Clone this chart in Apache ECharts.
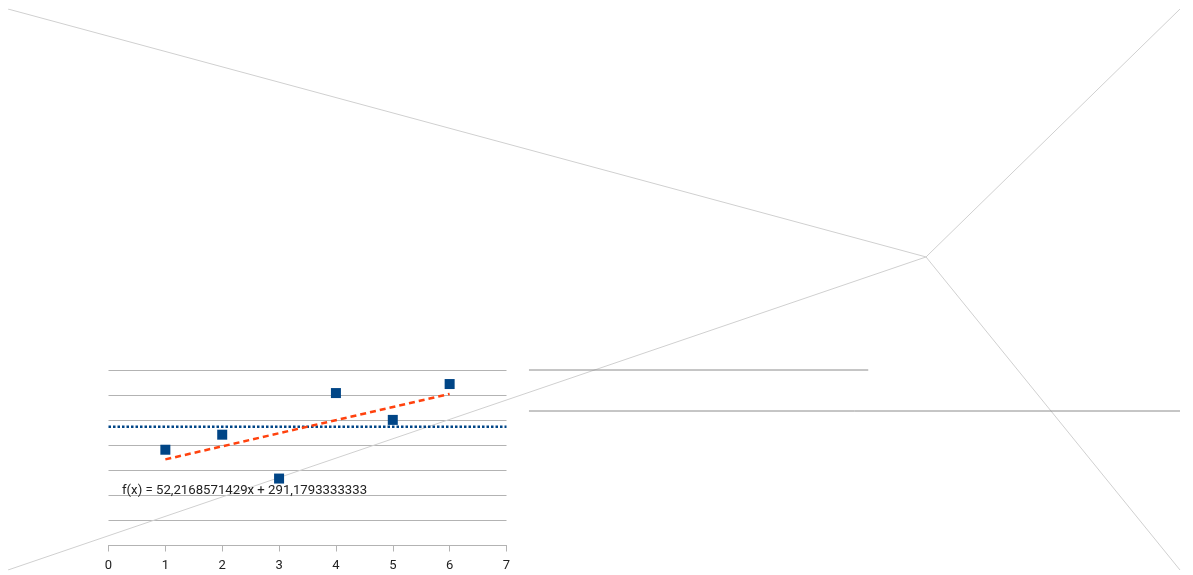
<!DOCTYPE html>
<html><head><meta charset="utf-8">
<script src="https://cdn.jsdelivr.net/npm/echarts@6/dist/echarts.min.js"></script>
<style>html,body{margin:0;padding:0;background:#fff}#c{width:1193px;height:575px}</style>
</head><body><div id="c"></div>
<script>
// Scatter data
const xValues = [1, 2, 3, 4, 5, 6];
const yValues = [382, 442, 267, 608, 501, 644];
const xTicks = [0, 1, 2, 3, 4, 5, 6, 7];
// Trend line coefficients (from the equation shown)
const trendSlope = 52.2168571429;
const trendIntercept = 291.1793333333;
const equationText = 'f(x) = 52,2168571429x + 291,1793333333';
// Decorative frame lines (fractions of the full-page overlay axis)
const hubPoint = [0.7833, 0.558];
const cornerPoints = [[0, 1], [1, 1], [1, 0], [0, 0]];
const hLine1 = [[0.4445, 0.3565], [0.734, 0.3565]];
const hLine2 = [[0.4445, 0.2834], [1.0, 0.2834]];

const avg = yValues.reduce((a, b) => a + b, 0) / yValues.length;
const scatterData = xValues.map((x, i) => [x, yValues[i]]);
const xMinData = Math.min(...xValues), xMaxData = Math.max(...xValues);
const trendData = [[xMinData, trendSlope * xMinData + trendIntercept], [xMaxData, trendSlope * xMaxData + trendIntercept]];
const avgData = [[xTicks[0], avg], [xTicks[xTicks.length - 1], avg]];

const frameSeries = cornerPoints.map(p => ({
  type: 'line', xAxisIndex: 1, yAxisIndex: 1, data: [p, hubPoint], symbol: 'none', silent: true,
  lineStyle: { color: '#d0d0d0', width: 1 }, z: 1
}));

const chart = echarts.init(document.getElementById('c'));
chart.setOption({
  animation: false,
  textStyle: { fontFamily: 'Roboto' },
  grid: [
    { left: 108.5, width: 398, top: 370, height: 175.5 },
    { left: 8, right: 13, top: 9, bottom: 5 }
  ],
  xAxis: [
    { type: 'value', gridIndex: 0, min: 0, max: 7, interval: 1,
      axisLine: { lineStyle: { color: '#b3b3b3', width: 1 } },
      axisTick: { show: true, length: 6, lineStyle: { color: '#b3b3b3' } },
      axisLabel: { color: '#222', fontSize: 13, margin: 14 },
      splitLine: { show: false } },
    { type: 'value', gridIndex: 1, min: 0, max: 1, show: false }
  ],
  yAxis: [
    { type: 'value', gridIndex: 0, min: 0, max: 700, interval: 100,
      axisLine: { show: false }, axisTick: { show: false }, axisLabel: { show: false },
      splitLine: { lineStyle: { color: '#b3b3b3', width: 1 } } },
    { type: 'value', gridIndex: 1, min: 0, max: 1, show: false }
  ],
  graphic: [
    { type: 'text', left: 122, top: 484, style: { text: equationText, fill: '#222', font: '13.2px Roboto' }, z: 10 }
  ],
  series: [
    ...frameSeries,
    { type: 'line', xAxisIndex: 1, yAxisIndex: 1, data: hLine1, symbol: 'none', silent: true,
      lineStyle: { color: '#8c8c8c', width: 1 }, z: 1 },
    { type: 'line', xAxisIndex: 1, yAxisIndex: 1, data: hLine2, symbol: 'none', silent: true,
      lineStyle: { color: '#8c8c8c', width: 1 }, z: 1 },
    { type: 'line', xAxisIndex: 0, yAxisIndex: 0, data: avgData, symbol: 'none',
      lineStyle: { color: '#004586', width: 2.5, type: [2.5, 2] }, z: 3 },
    { type: 'line', xAxisIndex: 0, yAxisIndex: 0, data: trendData, symbol: 'none',
      lineStyle: { color: '#ff420e', width: 2.5, type: [6, 4] }, z: 4 },
    { type: 'scatter', xAxisIndex: 0, yAxisIndex: 0, data: scatterData, symbol: 'rect', symbolSize: 10,
      itemStyle: { color: '#004586', opacity: 1 }, z: 5 }
  ]
});
</script></body></html>
